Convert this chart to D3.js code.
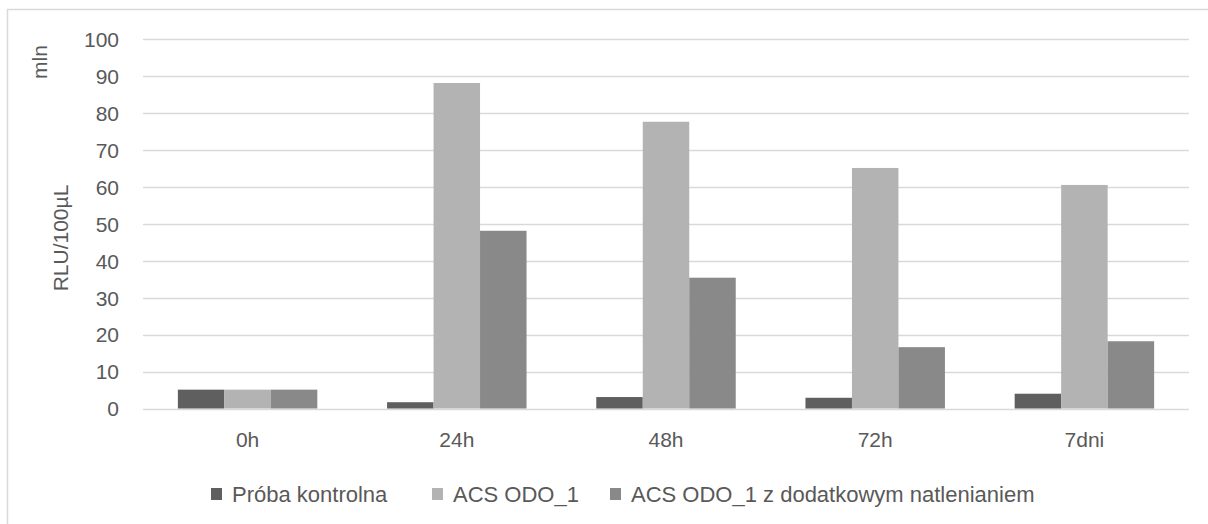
<!DOCTYPE html>
<html>
<head>
<meta charset="utf-8">
<script src="https://cdn.jsdelivr.net/npm/d3@7"></script>
<style>
  body { margin: 0; background: #fff; }
  text { font-family: "Liberation Sans", Arial, sans-serif; fill: #595959; }
</style>
</head>
<body>
<div class="chart"></div>
<script>
// data (values in mln RLU/100µL)
var categories = ["0h", "24h", "48h", "72h", "7dni"];
var seriesNames = ["Próba kontrolna", "ACS ODO_1", "ACS ODO_1 z dodatkowym natlenianiem"];
var proba = [5.1, 1.7, 3.1, 2.9, 4.0];
var acs = [5.1, 88.1, 77.6, 65.1, 60.5];
var acsNatl = [5.1, 48.1, 35.4, 16.6, 18.2];
var yTicks = [0, 10, 20, 30, 40, 50, 60, 70, 80, 90, 100];

var colors = ["#5f5f5f", "#b3b3b3", "#898989"];

var svgWidth = 1208;
var svgHeight = 524;

var svg = d3.select(".chart")
    .append("svg")
    .attr("width", svgWidth)
    .attr("height", svgHeight);

// outer chart frame (runs off the right and bottom edge)
svg.append("rect")
    .attr("x", 7.5)
    .attr("y", 9.5)
    .attr("width", svgWidth + 10)
    .attr("height", svgHeight + 10)
    .attr("fill", "none")
    .attr("stroke", "#d9d9d9")
    .attr("stroke-width", 1.5);

var plot = { left: 143, right: 1189, top: 39, bottom: 408.5 };

var x = d3.scaleBand()
    .domain(categories)
    .range([plot.left, plot.right]);

var xInner = d3.scaleBand()
    .domain(d3.range(seriesNames.length))
    .range([0, x.bandwidth()])
    .paddingOuter(0.75);

var y = d3.scaleLinear()
    .domain([0, 100])
    .range([plot.bottom, plot.top]);

// gridlines
svg.append("g")
    .selectAll("line")
    .data(yTicks)
    .enter()
    .append("line")
    .attr("x1", plot.left)
    .attr("x2", plot.right)
    .attr("y1", d => Math.round(y(d)) + 0.5)
    .attr("y2", d => Math.round(y(d)) + 0.5)
    .attr("stroke", "#d9d9d9")
    .attr("stroke-width", 1.3);

// y axis labels
var yAxis = d3.axisLeft(y).tickValues(yTicks).tickSize(0).tickPadding(0);
var yG = svg.append("g")
    .attr("transform", `translate(119,0)`)
    .call(yAxis);
yG.select(".domain").remove();
yG.selectAll("text")
    .attr("font-size", 21)
    .attr("font-family", null)
    .attr("fill", "#595959")
    .attr("dy", "0.35em");

// bars
var table = categories.map((c, i) => ({ cat: c, vals: [proba[i], acs[i], acsNatl[i]] }));

var groups = svg.append("g")
    .selectAll("g")
    .data(table)
    .enter()
    .append("g")
    .attr("transform", d => `translate(${x(d.cat)},0)`);

groups.selectAll("rect")
    .data(d => d.vals)
    .enter()
    .append("rect")
    .attr("x", (d, i) => xInner(i))
    .attr("width", xInner.bandwidth())
    .attr("y", d => y(d))
    .attr("height", d => y(0) - y(d))
    .attr("fill", (d, i) => colors[i]);

// x axis labels
var xAxis = d3.axisBottom(x).tickSize(0).tickPadding(0);
var xG = svg.append("g")
    .attr("transform", `translate(0,432)`)
    .call(xAxis);
xG.select(".domain").remove();
xG.selectAll("text")
    .attr("font-size", 21)
    .attr("font-family", null)
    .attr("fill", "#595959")
    .attr("dy", "0.71em");

// axis titles
svg.append("text")
    .attr("transform", "translate(68,238) rotate(-90)")
    .attr("text-anchor", "middle")
    .attr("font-size", 21)
    .text("RLU/100µL");

svg.append("text")
    .attr("transform", "translate(47,62) rotate(-90)")
    .attr("text-anchor", "middle")
    .attr("font-size", 21)
    .text("mln");

// legend
var legendX = [211, 432, 610];
var legend = svg.append("g")
    .selectAll("g")
    .data(seriesNames)
    .enter()
    .append("g")
    .attr("transform", (d, i) => `translate(${legendX[i]},488)`);

legend.append("rect")
    .attr("width", 11)
    .attr("height", 12)
    .attr("fill", (d, i) => colors[i]);

legend.append("text")
    .attr("x", 21)
    .attr("y", 6)
    .attr("dy", "0.35em")
    .attr("font-size", 22)
    .text(d => d);
</script>
</body>
</html>
